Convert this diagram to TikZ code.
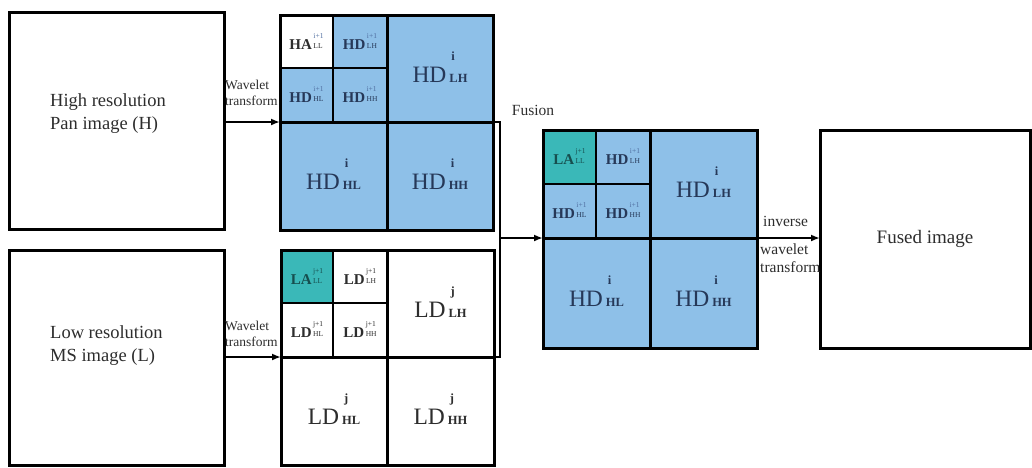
\documentclass[tikz,border=0pt]{standalone}
\usepackage{fontspec}
\setmainfont{Liberation Serif}
\usetikzlibrary{arrows.meta}

\definecolor{bandblue}{RGB}{142,192,232}
\definecolor{bandteal}{RGB}{58,184,184}
\definecolor{inkblue}{RGB}{38,56,88}
\definecolor{inkgray}{RGB}{45,45,45}
\definecolor{inkteal}{RGB}{22,78,78}
\definecolor{supblue}{RGB}{80,110,160}

% large sub-band label: name with level above and band below
\newcommand{\bandbig}[3]{\fontsize{23.5}{23.5}\selectfont #1\hspace{3pt}{\fontsize{12.5}{14}\selectfont\bfseries\begin{tabular}[b]{@{}l@{}}\hspace{2pt}#2\\[8pt]#3\end{tabular}}}
% small sub-band label
\newcommand{\bandsmall}[3]{\fontsize{15}{15}\selectfont\bfseries #1\hspace{1.5pt}\raisebox{1pt}{\fontsize{7.5}{8}\selectfont\mdseries\begin{tabular}[b]{@{}l@{}}#2\\[2pt]#3\end{tabular}}}
% one rectangular cell given by its corners
\newcommand{\band}[7]{\node[bandcell,#6,minimum width={(#4-#2)*1pt},minimum height={(#5-#3)*1pt}] (#1) at ({(#2+#4)/2},{(#3+#5)/2}) {#7};}

\tikzset{
  bandcell/.style={draw=black,rectangle,inner sep=0pt,outer sep=0pt},
  thin band/.style={line width=2pt},
  thick band/.style={line width=3pt},
  blueband/.style={fill=bandblue,text=inkblue},
  whiteband/.style={fill=white,text=inkgray},
  tealband/.style={fill=bandteal,text=inkteal},
  imgbox/.style={draw=black,line width=3pt,rectangle,inner sep=0pt,outer sep=0pt,fill=white},
  imgtext/.style={font=\fontsize{18.5}{23}\selectfont,text=inkgray,align=left,inner sep=0pt},
  smalllabel/.style={font=\fontsize{13.5}{16}\selectfont,text=inkgray,align=left,inner sep=0pt},
  midlabel/.style={font=\fontsize{15.5}{18}\selectfont,text=inkgray,align=left,inner sep=0pt},
  arr/.style={line width=2pt,-{Latex[length=9pt,width=7pt]}},
  link/.style={line width=2.5pt}
}

\begin{document}
\begin{tikzpicture}[x=1pt,y=-1pt]
\useasboundingbox (0,0) rectangle (1032,467);

% input and output images
\node[imgbox,minimum width=215pt,minimum height=217pt] (hpan) at (116.5,120.5) {};
\node[imgtext,anchor=west] (hpantext) at (50,114) {High resolution\\Pan image (H)};
\node[imgbox,minimum width=215pt,minimum height=215pt] (lms) at (116.5,357.5) {};
\node[imgtext,anchor=west] (lmstext) at (50,346) {Low resolution\\MS image (L)};
\node[imgbox,minimum width=210pt,minimum height=218pt,imgtext,font=\fontsize{19}{23}\selectfont,align=center] (fusedimg) at (925,239) {Fused image};

% decomposition of the Pan image
\band{tLL}{280}{15}{333}{68}{thin band,whiteband}{\bandsmall{HA}{\color{supblue}i+1}{LL}}
\band{tLHs}{333}{15}{387}{68}{thin band,blueband}{\bandsmall{HD}{\color{supblue}i+1}{LH}}
\band{tHLs}{280}{68}{333}{122}{thin band,blueband}{\bandsmall{HD}{\color{supblue}i+1}{HL}}
\band{tHHs}{333}{68}{387}{122}{thin band,blueband}{\bandsmall{HD}{\color{supblue}i+1}{HH}}
\draw[thick band] (tLL.north west) rectangle (tHHs.south east);
\band{tLH}{387}{15}{493}{122}{thick band,blueband}{\bandbig{HD}{i}{LH}}
\band{tHL}{280}{122}{387}{230}{thick band,blueband}{\bandbig{HD}{i}{HL}}
\band{tHH}{387}{122}{493}{230}{thick band,blueband}{\bandbig{HD}{i}{HH}}

% decomposition of the MS image
\band{bLL}{281}{250}{333}{303}{thin band,tealband}{\bandsmall{LA}{j+1}{LL}}
\band{bLHs}{333}{250}{387}{303}{thin band,whiteband}{\bandsmall{LD}{j+1}{LH}}
\band{bHLs}{281}{303}{333}{357}{thin band,whiteband}{\bandsmall{LD}{j+1}{HL}}
\band{bHHs}{333}{303}{387}{357}{thin band,whiteband}{\bandsmall{LD}{j+1}{HH}}
\draw[thick band] (bLL.north west) rectangle (bHHs.south east);
\band{bLH}{387}{250}{494}{357}{thick band,whiteband}{\bandbig{LD}{j}{LH}}
\band{bHL}{281}{357}{387}{465}{thick band,whiteband}{\bandbig{LD}{j}{HL}}
\band{bHH}{387}{357}{494}{465}{thick band,whiteband}{\bandbig{LD}{j}{HH}}

% fused coefficients
\band{fLL}{543}{130}{596}{184}{thin band,tealband}{\bandsmall{LA}{j+1}{LL}}
\band{fLHs}{596}{130}{650}{184}{thin band,blueband}{\bandsmall{HD}{\color{supblue}i+1}{LH}}
\band{fHLs}{543}{184}{596}{238}{thin band,blueband}{\bandsmall{HD}{\color{supblue}i+1}{HL}}
\band{fHHs}{596}{184}{650}{238}{thin band,blueband}{\bandsmall{HD}{\color{supblue}i+1}{HH}}
\draw[thick band] (fLL.north west) rectangle (fHHs.south east);
\band{fLH}{650}{130}{757}{238}{thick band,blueband}{\bandbig{HD}{i}{LH}}
\band{fHL}{543}{238}{650}{348}{thick band,blueband}{\bandbig{HD}{i}{HL}}
\band{fHH}{650}{238}{757}{348}{thick band,blueband}{\bandbig{HD}{i}{HH}}

% forward transforms
\draw[arr] (hpan.east |- tHL.north west) -- (tHL.north west);
\node[smalllabel,anchor=west] (wt1) at (225,93) {Wavelet\\transform};
\draw[arr] (lms.east |- bHL.north west) -- (bHL.north west);
\node[smalllabel,anchor=west] (wt2) at (225,334) {Wavelet\\transform};

% fusion of the two decompositions
\draw[link] (tLH.south east) -- ++(7,0) coordinate (fj) -- (fj |- bLH.south east) -- (bLH.south east);
\coordinate (fmid) at (fj |- fHL.north west);
\draw[arr] (fmid) -- (fHL.north west);
\node[midlabel] (fusionlbl) at (533,110) {Fusion};

% inverse transform
\draw[arr] (fLH.south east) -- (fusedimg.west |- fLH.south east);
\node[midlabel,anchor=west] (invlbl) at (763,221) {inverse};
\node[midlabel,anchor=north west] (iwtlbl) at (760,244) {wavelet\\transform};
\end{tikzpicture}
\end{document}
